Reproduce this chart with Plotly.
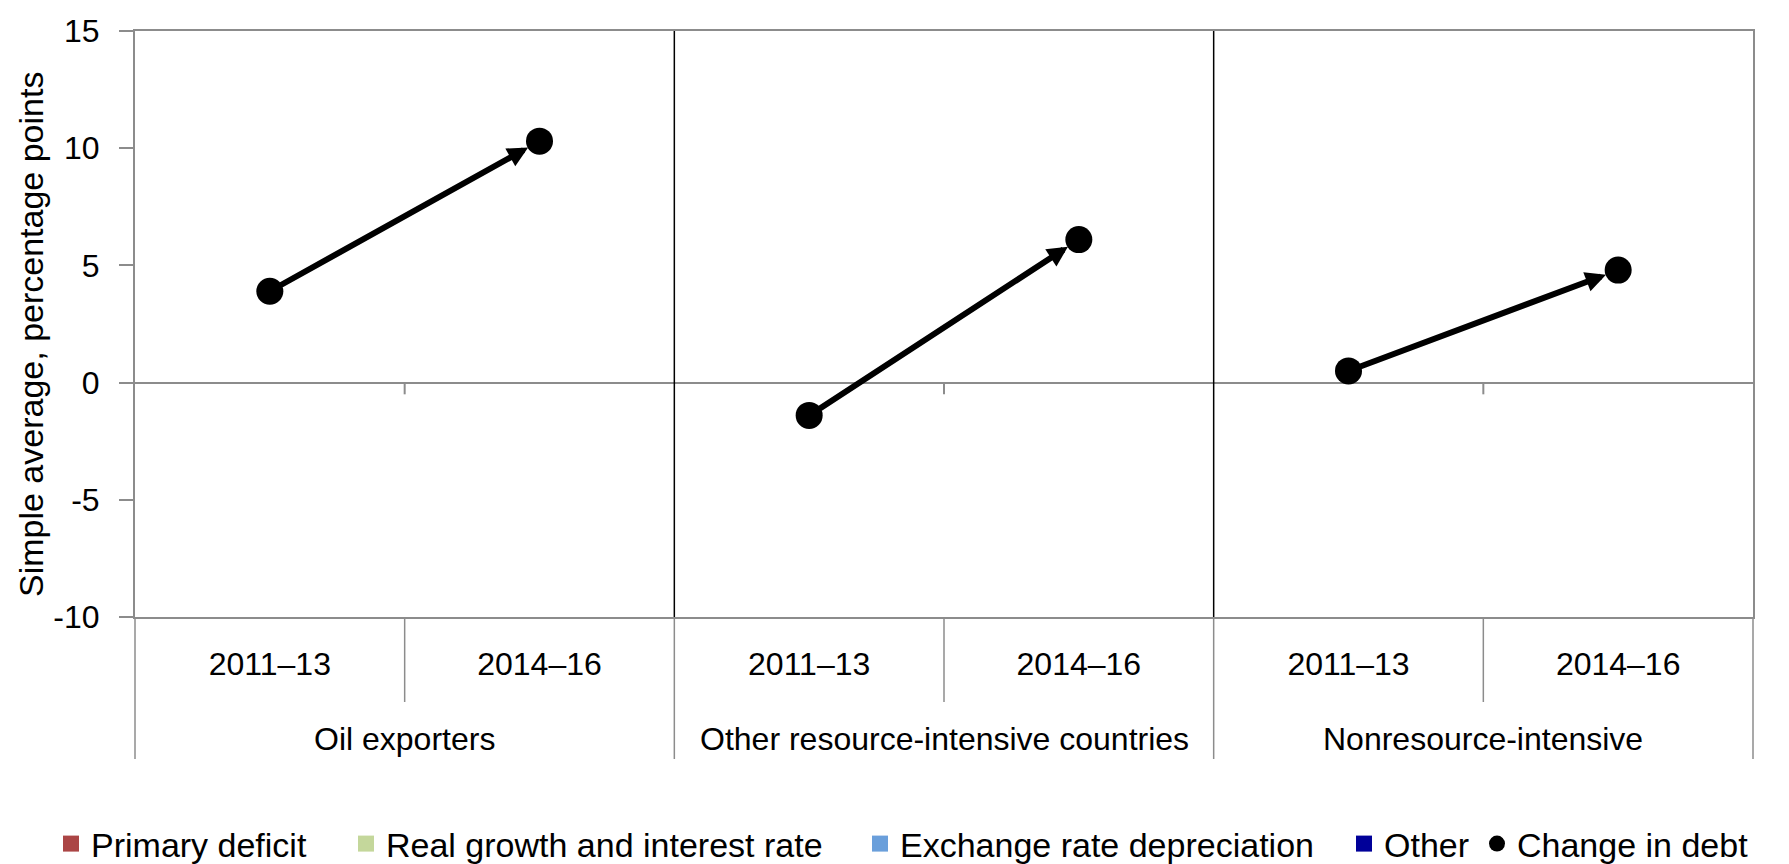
import plotly.graph_objects as go

# Country groups and periods
groups = ["Oil exporters", "Other resource-intensive countries", "Nonresource-intensive"]
periods = ["2011\u201313", "2014\u201316"]

# Change in public debt, simple average, percentage points
change_in_debt = {
    "Oil exporters": [3.9, 10.3],
    "Other resource-intensive countries": [-1.4, 6.1],
    "Nonresource-intensive": [0.5, 4.8],
}

# Decomposition components (legend entries)
component_names = ["Primary deficit", "Real growth and interest rate",
                   "Exchange rate depreciation", "Other"]
component_colors = ["#AB4545", "#C4D79B", "#6A9FDB", "#000099"]

y_tickvals = [-10, -5, 0, 5, 10, 15]
y_ticktext = ["-10", "-5", "0", "5", "10", "15"]
y_title = "Simple average, percentage points"

FONT = "Liberation Sans Narrow, Arial Narrow, Liberation Sans, Arial, sans-serif"
GRAY = "#8C8C8C"

# figure geometry (pixels)
W, H = 1789, 864
M_L, M_R, M_T, M_B = 135, 36, 31, 247
PLOT_W = W - M_L - M_R
PLOT_H = H - M_T - M_B
GROUP_LABEL_DROP = 122      # group label centre below the x axis
DIVIDER_DROP = 142          # group dividers below the x axis
PERIOD_DIVIDER_DROP = 85    # period dividers below the x axis
LEGEND_DROP = 227           # legend row centre below the x axis
Y_TITLE_X = 31              # y-axis title centre, from the left edge
Y_TITLE_Y = 335             # y-axis title centre, from the top edge
legend_left_px = [51, 346, 860, 1344, 1477]

n_per = len(periods)
n_cat = len(groups) * n_per
positions = list(range(n_cat))
tick_text = [p for _ in groups for p in periods]
values = [v for g in groups for v in change_in_debt[g]]
boundaries = [i - 0.5 for i in range(n_cat + 1)]
x_range = [boundaries[0], boundaries[-1]]


def to_paper_x(v):
    return (v - x_range[0]) / (x_range[1] - x_range[0])


def px_below_axis(d):
    return -d / PLOT_H


fig = go.Figure()

legend_ids = ["legend", "legend2", "legend3", "legend4", "legend5"]

for k, (name, color) in enumerate(zip(component_names, component_colors)):
    fig.add_trace(go.Scatter(
        x=positions, y=[None] * n_cat, name=name, mode="markers",
        marker=dict(color=color, symbol="square", size=16),
        legend=legend_ids[k],
    ))

fig.add_trace(go.Scatter(
    x=positions, y=values, name="Change in debt", mode="markers",
    marker=dict(color="black", size=27, symbol="circle"),
    legend=legend_ids[4],
))

shapes = []
annotations = []
for gi, g in enumerate(groups):
    i0 = gi * n_per
    i1 = i0 + 1
    v0, v1 = change_in_debt[g]
    # arrow from the earlier period to the later one
    annotations.append(dict(
        x=i1, y=v1, ax=i0, ay=v0, xref="x", yref="y", axref="x", ayref="y",
        text="", showarrow=True, arrowhead=2, arrowsize=0.68, arrowwidth=6,
        arrowcolor="black", standoff=13, startstandoff=11,
    ))
    # group label under the period labels
    annotations.append(dict(
        x=(i0 + i1) / 2, y=px_below_axis(GROUP_LABEL_DROP), xref="x", yref="paper",
        text=g, showarrow=False, yanchor="middle", xanchor="center",
        font=dict(family=FONT, size=32, color="black"),
    ))
    # small tick marks on the zero line between periods
    shapes.append(dict(type="line", xref="x", yref="y",
                       x0=i0 + 0.5, x1=i0 + 0.5, y0=0, y1=-0.5,
                       line=dict(color=GRAY, width=2)))
    # black separators between country groups
    if gi > 0:
        shapes.append(dict(type="line", xref="x", yref="y",
                           x0=i0 - 0.5, x1=i0 - 0.5,
                           y0=y_tickvals[0], y1=y_tickvals[-1],
                           line=dict(color="black", width=1.5)))

# dividers below the axis: long ones between groups, short ones between periods
for bi, b in enumerate(boundaries):
    xb = to_paper_x(b)
    drop = DIVIDER_DROP if bi % n_per == 0 else PERIOD_DIVIDER_DROP
    shapes.append(dict(type="line", xref="paper", yref="paper",
                       x0=xb, x1=xb, y0=0, y1=px_below_axis(drop),
                       line=dict(color=GRAY, width=1.5)))

# rotated y-axis title
annotations.append(dict(
    text=y_title, textangle=-90, showarrow=False,
    xref="paper", yref="paper",
    x=(Y_TITLE_X - M_L) / PLOT_W, y=(H - M_B - Y_TITLE_Y) / PLOT_H,
    xanchor="center", yanchor="middle",
    font=dict(family=FONT, size=34, color="black"),
))

legend_style = dict(orientation="h", xanchor="left", yanchor="middle",
                    y=px_below_axis(LEGEND_DROP), bgcolor="rgba(0,0,0,0)",
                    font=dict(family=FONT, size=34, color="black"),
                    itemwidth=30)
legends = {}
for lid, lx in zip(legend_ids, legend_left_px):
    legends[lid] = dict(legend_style, x=(lx - M_L) / PLOT_W)

fig.update_layout(
    width=W, height=H,
    margin=dict(l=M_L, r=M_R, t=M_T, b=M_B, autoexpand=False),
    paper_bgcolor="white", plot_bgcolor="white",
    font=dict(family=FONT, size=32, color="black"),
    showlegend=True,
    shapes=shapes,
    annotations=annotations,
    **legends,
)

fig.update_xaxes(
    range=x_range, automargin=False,
    tickmode="array", tickvals=positions, ticktext=tick_text,
    showline=True, linecolor=GRAY, linewidth=2, mirror=True,
    ticks="", ticklabelstandoff=18,
    showgrid=False, zeroline=False,
    tickfont=dict(family=FONT, size=32, color="black"),
)

fig.update_yaxes(
    range=[y_tickvals[0], y_tickvals[-1]], automargin=False,
    tickvals=y_tickvals, ticktext=y_ticktext,
    showline=True, linecolor=GRAY, linewidth=2, mirror=True,
    ticks="outside", ticklen=14, tickcolor=GRAY, tickwidth=2,
    ticklabelstandoff=13,
    showgrid=False,
    zeroline=True, zerolinecolor=GRAY, zerolinewidth=2,
    tickfont=dict(family=FONT, size=32, color="black"),
)

fig.write_html("out.html")
